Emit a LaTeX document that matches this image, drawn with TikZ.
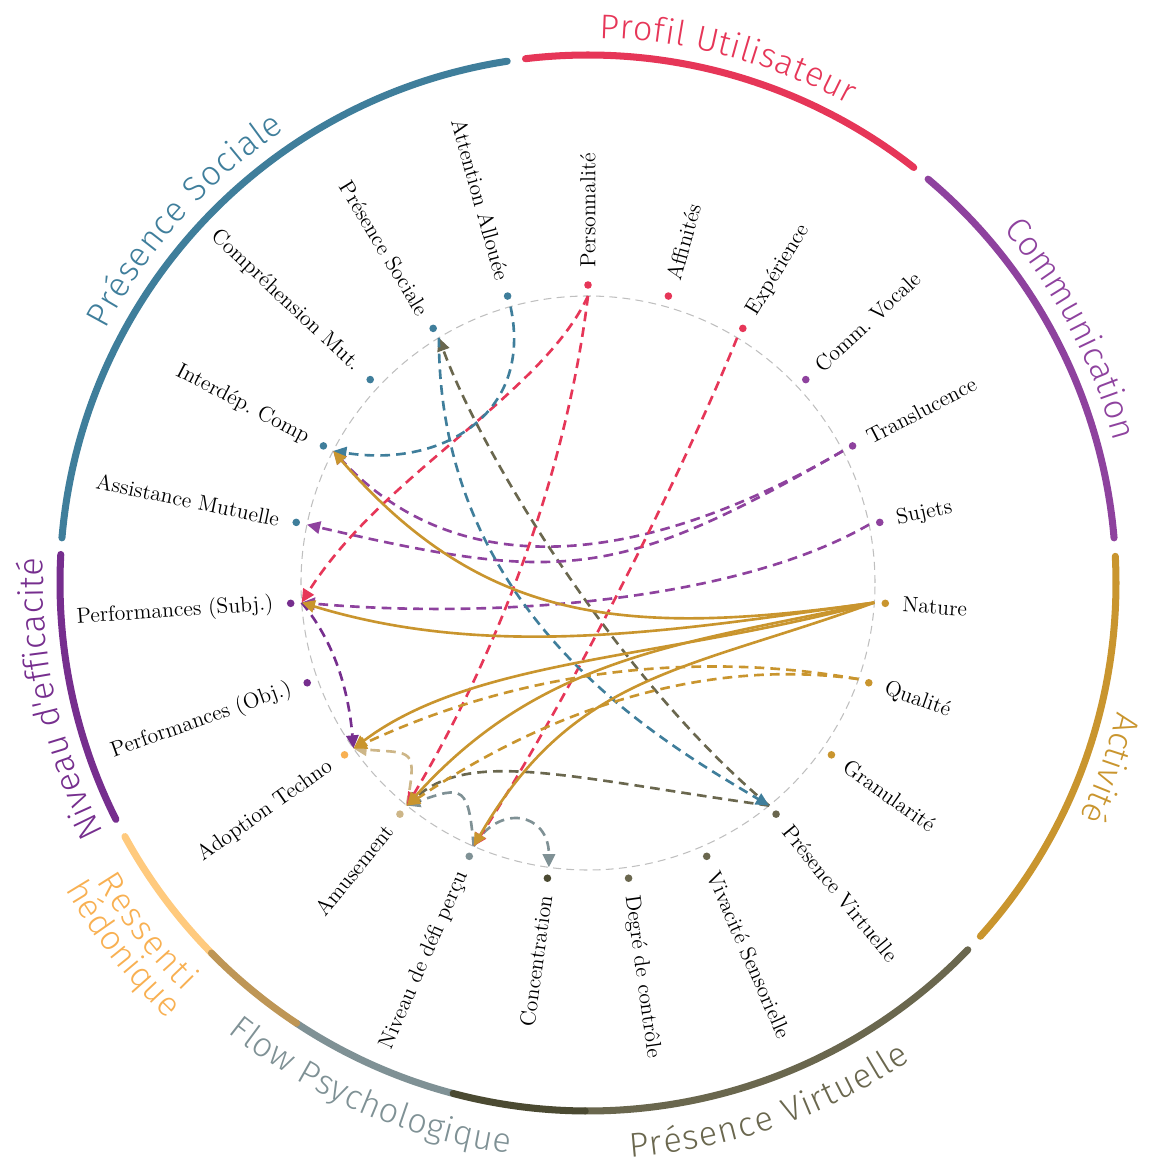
\documentclass[tikz,border=0pt]{standalone}
\usepackage{fontspec}
\newfontfamily\grpfam{Fira Sans Light}
\usepackage{tikz}
\usetikzlibrary{arrows.meta,decorations.text}
\definecolor{cTeal}{RGB}{63,126,155}
\definecolor{cRed}{RGB}{230,54,88}
\definecolor{cComm}{RGB}{142,66,158}
\definecolor{cGold}{RGB}{201,149,46}
\definecolor{cOlive}{RGB}{106,103,78}
\definecolor{cDark}{RGB}{75,74,50}
\definecolor{cGray}{RGB}{127,145,149}
\definecolor{cTan}{RGB}{190,150,86}
\definecolor{cPale}{RGB}{205,182,136}
\definecolor{cOrange}{RGB}{248,176,82}
\definecolor{cLight}{RGB}{255,202,126}
\definecolor{cEff}{RGB}{118,46,142}
\newcommand\grpfmt[1]{\grpfam\fontsize{19.5}{22}\selectfont\color{#1}}
\tikzset{
  edge/.style={line width=1.5pt, -{Triangle[length=7.5pt,width=7pt]}},
  dashedge/.style={edge, dash pattern=on 5.5pt off 3.5pt},
  grparc/.style={line width=4pt, line cap=round},
  grplabel/.style={decorate, decoration={text along path, text align=fit to path, text={#1}}}
}

\begin{document}
\frenchspacing
\begin{tikzpicture}[x=0.02cm, y=0.02cm, every node/.style={font=\fontsize{12.4}{14}\selectfont, inner sep=0pt}]
  \useasboundingbox (-588,-583) rectangle (567,583);
  \draw[black!25, line width=0.6pt, dash pattern=on 4.5pt off 3pt] (0,0) circle (287);
  \foreach \i/\nm/\lab/\col in {0/pers/Personnalité/cRed, 1/aff/Affinités/cRed, 2/exper/Expérience/cRed,
      3/comm/Comm. Vocale/cComm, 4/transl/Translucence/cComm, 5/sujets/Sujets/cComm,
      6/nature/Nature/cGold, 7/qual/Qualité/cGold, 8/gran/Granularité/cGold,
      9/pv/Présence Virtuelle/cOlive, 10/viv/Vivacité Sensorielle/cOlive, 11/degre/Degré de contrôle/cOlive,
      12/conc/Concentration/cDark, 13/niveau/Niveau de défi perçu/cGray, 14/amus/Amusement/cPale,
      15/adopt/Adoption Techno/cOrange, 16/perfO/{Performances (Obj.)}/cEff, 17/perfS/{Performances (Subj.)}/cEff,
      18/assist/Assistance Mutuelle/cTeal, 19/interd/Interdép. Comp/cTeal, 20/compr/Compréhension Mut./cTeal,
      21/psoc/Présence Sociale/cTeal, 22/att/Attention Allouée/cTeal} {
    \pgfmathsetmacro\ang{90-\i*360/23}
    \coordinate (\nm) at (\ang:287);
    \fill[\col] (\ang:298) circle (3.8);
    \ifdim\ang pt>-90pt
      \node[anchor=west, rotate=\ang] (t\nm) at (\ang:315) {\lab};
    \else
      \node[anchor=east, rotate=\ang+180] (t\nm) at (\ang:315) {\lab};
    \fi
  }
  \foreach \a/\b/\col in {175.1/98.8/cTeal, 96.8/51.9/cRed, 49.9/4.9/cComm, 2.9/-42/cGold,
      -135.5/-151.3/cLight, -44/-90.3/cOlive, -104.8/-123.5/cGray, -123.5/-135.5/cTan,
      -90.3/-104.8/cDark, -153.4/-183.1/cEff} {
    \draw[grparc, \col] (\a:528) arc[start angle=\a, end angle=\b, radius=528];
  }
  \path[grplabel={|\grpfmt{cTeal}|Présence Sociale}] (152.3:545) arc[start angle=152.3, end angle=123.8, radius=545];
  \path[grplabel={|\grpfmt{cRed}|Profil Utilisateur}] (88.8:545) arc[start angle=88.8, end angle=61.4, radius=545];
  \path[grplabel={|\grpfmt{cComm}|Communication}] (40.4:545) arc[start angle=40.4, end angle=16.1, radius=545];
  \path[grplabel={|\grpfmt{cGold}|Activité}] (-13.6:545) arc[start angle=-13.6, end angle=-25.5, radius=545];
  \path[grplabel={|\grpfmt{cEff}|Niveau d'efficacité}] (207.2:545) arc[start angle=207.2, end angle=177.4, radius=545];
  \path[grplabel={|\grpfmt{cOlive}|Présence Virtuelle}] (-85.8:576) arc[start angle=-85.8, end angle=-55.9, radius=576];
  \path[grplabel={|\grpfmt{cGray}|Flow Psychologique}] (-128.7:576) arc[start angle=-128.7, end angle=-97.8, radius=576];
  \path[grplabel={|\grpfmt{cOrange}|Ressenti}] (-148.7:575) arc[start angle=-148.7, end angle=-134.7, radius=575];
  \path[grplabel={|\grpfmt{cOrange}|hédonique}] (-149.6:606) arc[start angle=-149.6, end angle=-134.1, radius=606];
  \draw[dashedge, cPale] (amus) .. controls +(80:60) and +(-5:60) .. (adopt);
  \draw[dashedge, cGray] (niveau) .. controls +(95:60) and +(20:60) .. (amus);
  \draw[dashedge, cGray] (niveau) .. controls +(60:50) and +(90:55) .. (conc);
  \draw[dashedge, cOlive] (pv) .. controls +(172:200) and +(42:85) .. (amus);
  \draw[dashedge, cOlive] (pv) .. controls +(140:200) and +(-70:120) .. (psoc);
  \draw[dashedge, cComm] (transl) .. controls +(-150:260) and +(-13:260) .. (assist);
  \draw[dashedge, cComm] (transl) .. controls +(-150:240) and +(-47:180) .. (interd);
  \draw[dashedge, cComm] (sujets) .. controls +(-150:150) and +(-5:200) .. (perfS);
  \draw[dashedge, cEff] (perfS) .. controls +(-50:50) and +(95:60) .. (adopt);
  \draw[dashedge, cRed] (pers) .. controls +(-115:110) and +(58:150) .. (perfS);
  \draw[dashedge, cRed] (pers) .. controls +(-97:200) and +(59:150) .. (amus);
  \draw[dashedge, cRed] (exper) .. controls +(-112:160) and +(57:160) .. (niveau);
  \draw[dashedge, cTeal] (att) .. controls +(-78:110) and +(-9:110) .. (interd);
  \draw[dashedge, cTeal] (psoc) .. controls +(-90:280) and +(149:120) .. (pv);
  \draw[dashedge, cGold] (qual) .. controls +(170:150) and +(25:200) .. (adopt);
  \draw[dashedge, cGold] (qual) .. controls +(172:150) and +(34:180) .. (amus);
  \draw[edge, cGold] (nature) .. controls +(-172:250) and +(-49:230) .. (interd);
  \draw[edge, cGold] (nature) .. controls +(-172:200) and +(-17:200) .. (perfS);
  \draw[edge, cGold] (nature) .. controls +(-165:220) and +(37:150) .. (adopt);
  \draw[edge, cGold] (nature) .. controls +(-168:200) and +(48:200) .. (amus);
  \draw[edge, cGold] (nature) .. controls +(-160:200) and +(60:200) .. (niveau);
\end{tikzpicture}
\end{document}
